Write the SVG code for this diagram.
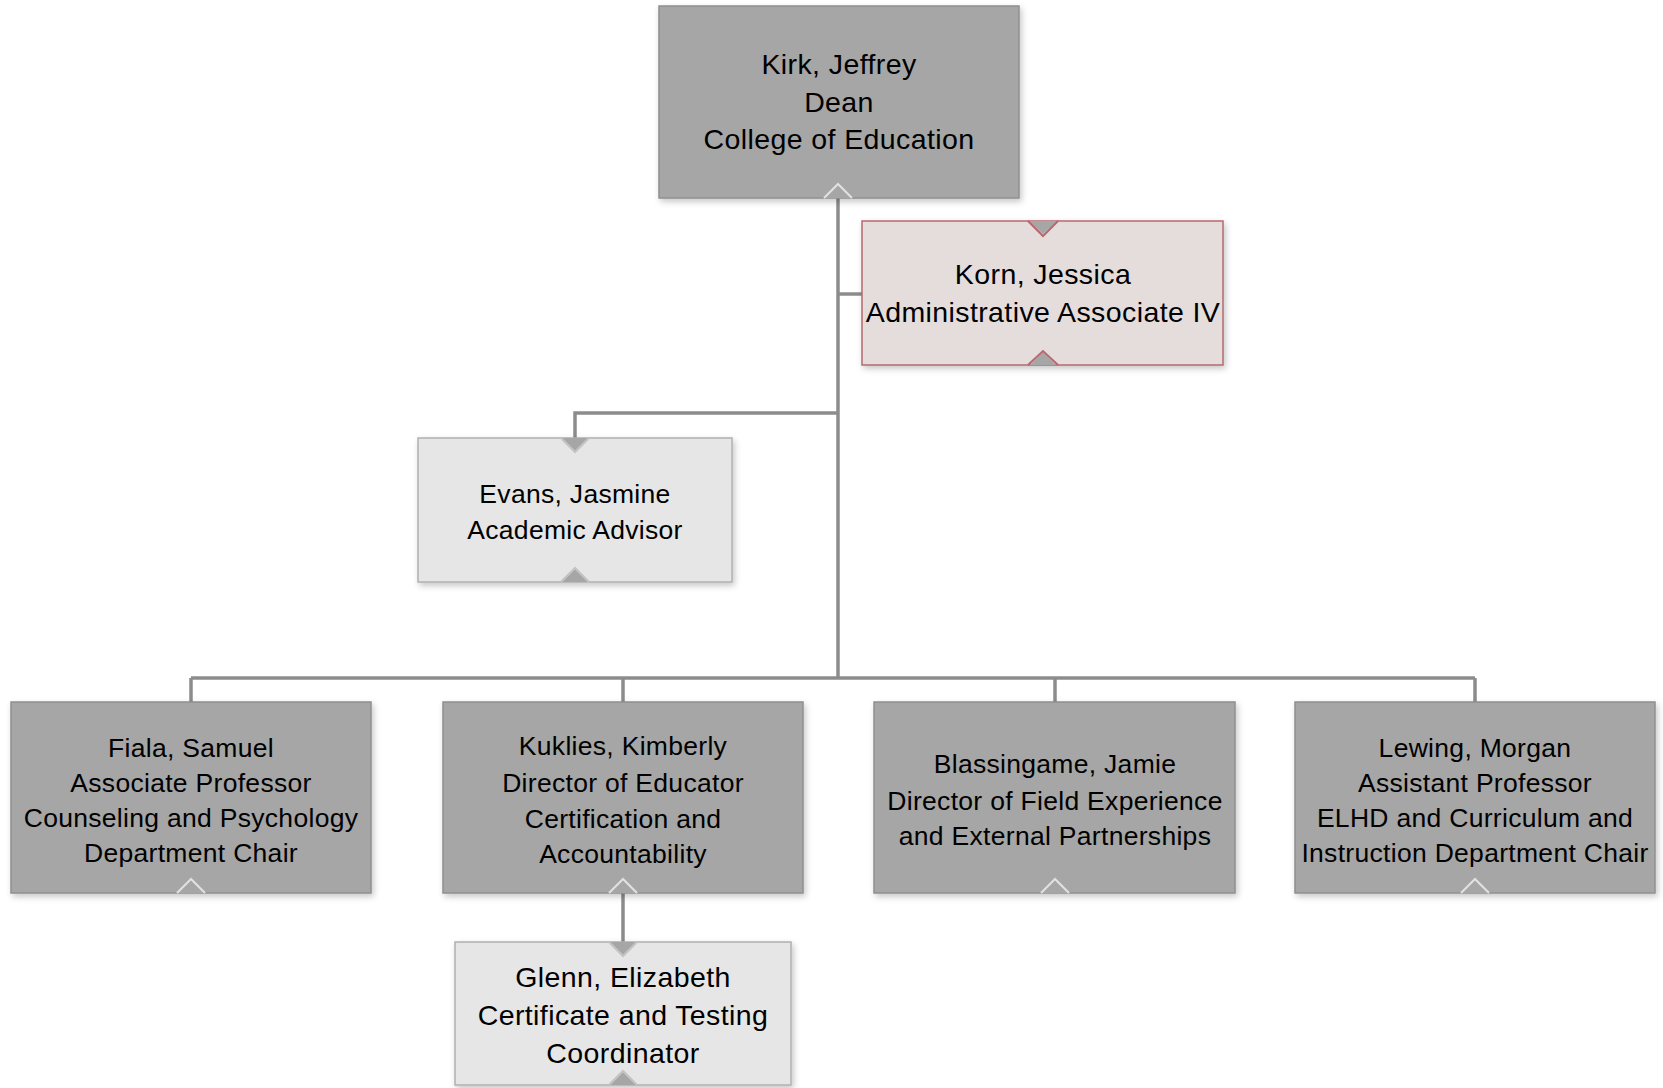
<svg xmlns="http://www.w3.org/2000/svg" width="1663" height="1088" viewBox="0 0 1663 1088">
<defs>
<filter id="sh" x="-10%" y="-10%" width="125%" height="130%">
<feDropShadow dx="2" dy="3" stdDeviation="3" flood-color="#000" flood-opacity="0.22"/>
</filter>
</defs>
<style>
.dark{fill:#a6a6a6;stroke:#8f8f8f;stroke-width:1.5}
.light{fill:#e6e6e6;stroke:#b0b0b0;stroke-width:1.5}
.pink{fill:#e5dcdc;stroke:#b6686f;stroke-width:1.5}
.tri{fill:#a6a6a6;stroke:none}
.capd{fill:none;stroke:#e2e2e2;stroke-width:2}
.capl{fill:none;stroke:#c2c2c2;stroke-width:2}
.capp{fill:none;stroke:#b6686f;stroke-width:2}
.con{fill:none;stroke:#8c8c8c;stroke-width:3.5}
text{font-family:"Liberation Sans",Arial,sans-serif;fill:#000;text-anchor:middle}
.big{font-size:28.5px;letter-spacing:0.4px}
.norm{font-size:26.5px;letter-spacing:0.3px}
</style>
<g id="connectors">
<path class="con" d="M838,188 V678"/>
<path class="con" d="M838,294 H862"/>
<path class="con" d="M838,413 H575 V438"/>
<path class="con" d="M191,678 H1475"/>
<path class="con" d="M191,678 V702 M623,678 V702 M1055,678 V702 M1475,678 V702"/>
<path class="con" d="M623,882 V942"/>
</g>
<g id="kirk">
<rect class="dark" filter="url(#sh)" x="659" y="6" width="360" height="192"/>
<polygon class="tri" points="825,198 851,198 838,185"/>
<polyline class="capd" points="824,198 838,184 852,198"/>
<text class="big" x="839" y="74">Kirk, Jeffrey</text>
<text class="big" x="839" y="112">Dean</text>
<text class="big" x="839" y="149">College of Education</text>
</g>
<g id="korn">
<rect class="pink" filter="url(#sh)" x="862" y="221" width="361" height="144"/>
<polygon class="tri" points="1029,221 1057,221 1043,234"/>
<polyline class="capp" points="1028,221 1043,236 1058,221"/>
<polygon class="tri" points="1030,365 1056,365 1043,352"/>
<polyline class="capp" points="1028,365 1043,351 1058,365"/>
<text class="big" x="1043" y="284">Korn, Jessica</text>
<text class="big" x="1043" y="322">Administrative Associate IV</text>
</g>
<g id="evans">
<rect class="light" filter="url(#sh)" x="418" y="438" width="314" height="144"/>
<polygon class="tri" points="562,438 588,438 575,451"/>
<polyline class="capl" points="561,438 575,452 589,438"/>
<polygon class="tri" points="562,582 588,582 575,569"/>
<polyline class="capl" points="561,582 575,568 589,582"/>
<text class="norm" x="575" y="503">Evans, Jasmine</text>
<text class="norm" x="575" y="539">Academic Advisor</text>
</g>
<g id="fiala">
<rect class="dark" filter="url(#sh)" x="11" y="702" width="360" height="191"/>
<polygon class="tri" points="178,893 204,893 191,880"/>
<polyline class="capd" points="177,893 191,879 205,893"/>
<text class="norm" x="191" y="757">Fiala, Samuel</text>
<text class="norm" x="191" y="792">Associate Professor</text>
<text class="norm" x="191" y="827">Counseling and Psychology</text>
<text class="norm" x="191" y="862">Department Chair</text>
</g>
<g id="kuklies">
<rect class="dark" filter="url(#sh)" x="443" y="702" width="360" height="191"/>
<polygon class="tri" points="610,893 636,893 623,880"/>
<polyline class="capd" points="609,893 623,879 637,893"/>
<text class="norm" x="623" y="755">Kuklies, Kimberly</text>
<text class="norm" x="623" y="792">Director of Educator</text>
<text class="norm" x="623" y="828">Certification and</text>
<text class="norm" x="623" y="863">Accountability</text>
</g>
<g id="blassingame">
<rect class="dark" filter="url(#sh)" x="874" y="702" width="361" height="191"/>
<polygon class="tri" points="1042,893 1068,893 1055,880"/>
<polyline class="capd" points="1041,893 1055,879 1069,893"/>
<text class="norm" x="1055" y="773">Blassingame, Jamie</text>
<text class="norm" x="1055" y="810">Director of Field Experience</text>
<text class="norm" x="1055" y="845">and External Partnerships</text>
</g>
<g id="lewing">
<rect class="dark" filter="url(#sh)" x="1295" y="702" width="360" height="191"/>
<polygon class="tri" points="1462,893 1488,893 1475,880"/>
<polyline class="capd" points="1461,893 1475,879 1489,893"/>
<text class="norm" x="1475" y="757">Lewing, Morgan</text>
<text class="norm" x="1475" y="792">Assistant Professor</text>
<text class="norm" x="1475" y="827">ELHD and Curriculum and</text>
<text class="norm" x="1475" y="862">Instruction Department Chair</text>
</g>
<g id="glenn">
<rect class="light" filter="url(#sh)" x="455" y="942" width="336" height="143"/>
<polygon class="tri" points="610,942 636,942 623,955"/>
<polyline class="capl" points="609,942 623,956 637,942"/>
<polygon class="tri" points="610,1085 636,1085 623,1072"/>
<polyline class="capl" points="609,1085 623,1071 637,1085"/>
<text class="big" x="623" y="987">Glenn, Elizabeth</text>
<text class="big" x="623" y="1025">Certificate and Testing</text>
<text class="big" x="623" y="1063">Coordinator</text>
</g>
</svg>
